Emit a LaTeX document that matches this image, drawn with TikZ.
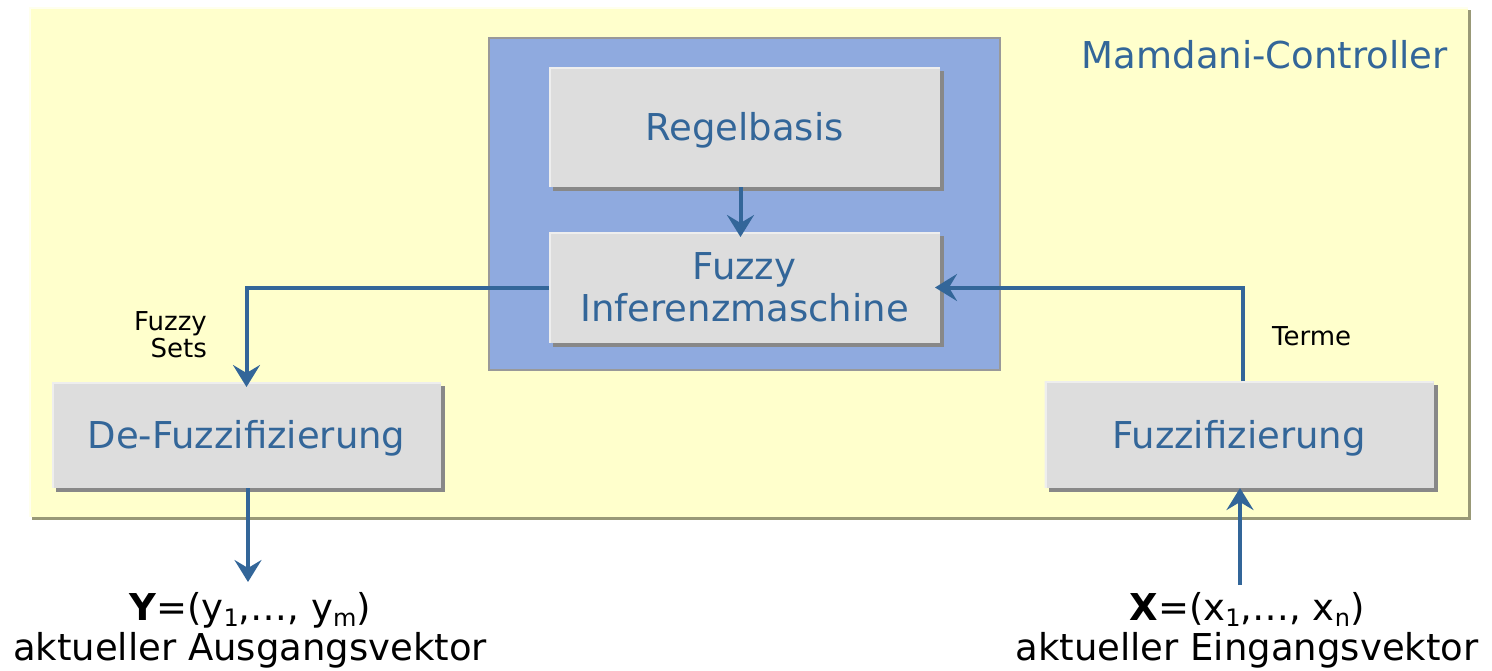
\documentclass[tikz,border=0pt]{standalone}
\usepackage{fontspec}
\setmainfont{DejaVu Sans}
\usetikzlibrary{arrows.meta,shadows}

\definecolor{panelfill}{HTML}{FFFFCC}
\definecolor{panelhi}{HTML}{FFFFEE}
\definecolor{panelshade}{HTML}{999977}
\definecolor{corefill}{HTML}{8FAADF}
\definecolor{coreline}{HTML}{999999}
\definecolor{boxfill}{HTML}{DDDDDD}
\definecolor{boxhi}{HTML}{EEEEEE}
\definecolor{boxshade}{HTML}{888888}
\definecolor{ink}{HTML}{336699}

\newcommand{\lowsub}[1]{\raisebox{-0.18em}{\fontsize{24}{24}\selectfont #1}}

\tikzset{
  bigtext/.style={font=\fontsize{37}{42}\selectfont},
  smalltext/.style={font=\fontsize{26}{27}\selectfont},
  panel/.style={fill=panelfill, inner sep=0pt, outer sep=0pt,
    general shadow={fill=panelshade, shadow xshift=3pt, shadow yshift=-3pt},
    path picture={\draw[panelhi, line width=4pt]
      (path picture bounding box.south west) -- (path picture bounding box.north west)
      -- (path picture bounding box.north east);}},
  core/.style={fill=corefill, draw=coreline, line width=2pt, inner sep=0pt, outer sep=0pt},
  block/.style={fill=boxfill, inner sep=0pt, outer sep=0pt, bigtext, text=ink, align=center,
    general shadow={fill=boxshade, shadow xshift=4pt, shadow yshift=-4pt},
    path picture={\draw[boxhi, line width=4pt]
      (path picture bounding box.south west) -- (path picture bounding box.north west)
      -- (path picture bounding box.north east);}},
  flow/.style={draw=ink, line width=4pt, -{Stealth[length=22pt, width=27pt, inset=8pt]}},
  intobox/.style={shorten >=-5pt}
}

\begin{document}
\begin{tikzpicture}[x=1pt, y=-1pt]
\useasboundingbox (0,0) rectangle (1492,670);

% controller frame and inner inference block
\node[panel, minimum width=1439pt, minimum height=510pt] (frame) at (748.5,262) {};
\node[core, minimum width=511pt, minimum height=332pt] (core) at (744.5,204) {};
\node[bigtext, text=ink, anchor=base east, inner sep=0pt] (title) at (1448,68) {Mamdani-Controller};

% processing blocks
\node[block, minimum width=391pt, minimum height=120pt, text height=27pt, text depth=0pt] (rb) at (744.5,127) {Regelbasis};
\node[block, minimum width=391pt, minimum height=111pt] (inf) at (744.5,287.5) {Fuzzy\\Inferenzmaschine};
\node[block, minimum width=389pt, minimum height=106pt, text height=27pt, text depth=0pt] (df) at (246.5,435) {De-Fuzzifizierung};
\node[block, minimum width=389pt, minimum height=107pt, text height=27pt, text depth=0pt] (fz) at (1239,434.5) {Fuzzifizierung};

% connector labels
\node[smalltext, align=right, anchor=north east, inner sep=0pt] (setslbl) at (207,311) {Fuzzy\\Sets};
\node[smalltext, anchor=base west, inner sep=0pt] (termlbl) at (1272,345) {Terme};

% input and output vectors
\node[bigtext, anchor=base, inner sep=0pt] (outvec) at (250,620) {\textbf{Y}=(y\lowsub{1},…, y\lowsub{m})};
\node[bigtext, anchor=base, inner sep=0pt] (outlbl) at (250,660) {aktueller Ausgangsvektor};
\node[bigtext, anchor=base, inner sep=0pt] (invec) at (1247,620) {\textbf{X}=(x\lowsub{1},…, x\lowsub{n})};
\node[bigtext, anchor=base, inner sep=0pt] (inlbl) at (1247,660) {aktueller Eingangsvektor};
\coordinate (outtip) at (248,582);
\coordinate (intail) at (1240,585);

% signal flow
\draw[flow, intobox] ([xshift=-4pt]rb.south) -- ([xshift=-4pt]inf.north);
\draw[flow, intobox] (inf.west) -| (df.north);
\draw[flow, intobox] ([xshift=4pt]fz.north) |- (inf.east);
\draw[flow] (df.south -| outtip) -- (outtip);
\draw[flow] (intail) -- (intail |- fz.south);
\end{tikzpicture}
\end{document}
